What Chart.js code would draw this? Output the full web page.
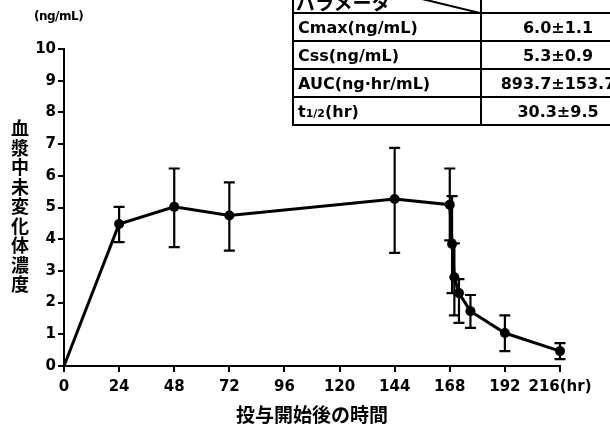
<!DOCTYPE html>
<html>
<head>
<meta charset="utf-8">
<script src="https://cdn.jsdelivr.net/npm/chart.js@4"></script>
<style>
  html, body { margin: 0; padding: 0; background: #fff; overflow: hidden; }
  #wrap { position: relative; width: 610px; height: 430px; overflow: hidden; }
  #unit { position: absolute; left: 34px; top: 9px; font: bold 12px "DejaVu Sans", sans-serif; letter-spacing: -0.5px; }
  #ytitle { position: absolute; left: 9px; top: 118px; width: 22px; font: bold 18px "Noto Sans CJK JP", sans-serif;
            line-height: 19.5px; text-align: center; }
  #tbl { position: absolute; left: 292px; top: -34px; width: 340px; table-layout: fixed; border-collapse: collapse;
         font: bold 16px "DejaVu Sans", sans-serif; }
  #tbl td { border: 2px solid #000; padding: 0 0 0 4px; height: 26px; white-space: nowrap; overflow: hidden; }
  #tbl td.v { text-align: center; padding: 0; width: 152px; }
  #tbl td.p { width: 182px; }
  #tbl tr.h td { height: 44px; position: relative; }
  #hdr { position: absolute; left: 2px; bottom: 0; font: bold 19px "Noto Sans CJK JP", sans-serif; line-height: 20px; }
  #diag { position: absolute; left: 0; top: 0; }
</style>
</head>
<body>
<div id="wrap">
  <canvas id="myChart" width="610" height="430"></canvas>
  <div id="unit">(ng/mL)</div>
  <div id="ytitle">血<br>漿<br>中<br>未<br>変<br>化<br>体<br>濃<br>度</div>
  <table id="tbl">
    <tr class="h"><td class="p"><svg id="diag" width="192" height="50"><line x1="0" y1="0" x2="190" y2="46" stroke="#000" stroke-width="2"/></svg><span id="hdr">パラメータ</span></td><td class="v"></td></tr>
  </table>
</div>
<script>
// time after start of dosing (hr)
const times = [0, 24, 48, 72, 144, 168, 169, 170, 172, 177, 192, 216];
// mean plasma concentration (ng/mL)
const means = [0, 4.48, 5.02, 4.75, 5.27, 5.09, 3.85, 2.8, 2.3, 1.73, 1.04, 0.47];
// error bar ends
const lows  = [0, 3.91, 3.75, 3.64, 3.57, 3.96, 2.3, 1.6, 1.36, 1.2, 0.47, 0.22];
const highs = [0, 5.02, 6.23, 5.79, 6.88, 6.23, 5.36, 3.87, 2.74, 2.24, 1.6, 0.72];
const xTicks = [0, 24, 48, 72, 96, 120, 144, 168, 192, 216];

// table
const params = ["Cmax(ng/mL)", "Css(ng/mL)", "AUC(ng·hr/mL)", "t1/2(hr)"];
const paramVals = ["6.0±1.1", "5.3±0.9", "893.7±153.7", "30.3±9.5"];

let tbl = document.getElementById("tbl");
for (let i = 0; i < params.length; i++) {
    let tr = document.createElement("tr");
    let name = params[i];
    if (name.startsWith("t1/2")) name = 't<span style="font-size:11px">1/2</span>(hr)';
    tr.innerHTML = '<td class="p">' + name + '</td><td class="v">' + paramVals[i] + '</td>';
    tbl.appendChild(tr);
}

const errorBars = {
    id: "errorBars",
    afterDatasetsDraw(chart) {
        const ctx = chart.ctx;
        const xs = chart.scales.x, ys = chart.scales.y;
        ctx.save();
        ctx.strokeStyle = "#000";
        ctx.lineWidth = 2.2;
        for (let i = 0; i < times.length; i++) {
            if (highs[i] === lows[i]) continue;
            let x = xs.getPixelForValue(times[i]);
            let y1 = ys.getPixelForValue(lows[i]);
            let y2 = ys.getPixelForValue(highs[i]);
            ctx.beginPath();
            ctx.moveTo(x, y1); ctx.lineTo(x, y2);
            ctx.moveTo(x - 5.5, y1); ctx.lineTo(x + 5.5, y1);
            ctx.moveTo(x - 5.5, y2); ctx.lineTo(x + 5.5, y2);
            ctx.stroke();
        }
        ctx.restore();
    }
};

const tickFont = { family: "DejaVu Sans", weight: "bold", size: 15 };

new Chart("myChart", {
    type: "scatter",
    data: {
        datasets: [{
            data: times.map((t, i) => ({ x: t, y: means[i] })),
            showLine: true,
            borderColor: "#000",
            borderWidth: 3,
            backgroundColor: "#000",
            pointRadius: (c) => c.dataIndex === 0 ? 0 : 5,
            pointBorderWidth: 0,
            clip: false
        }]
    },
    options: {
        responsive: false,
        animation: false,
        layout: { padding: { left: 0, right: 50, top: 49, bottom: 0 } },
        plugins: { legend: { display: false }, tooltip: { enabled: false } },
        scales: {
            x: {
                type: "linear", min: 0, max: 216,
                afterBuildTicks: (s) => { s.ticks = xTicks.map(v => ({ value: v })); },
                afterFit: (s) => { s.height = 64; },
                ticks: {
                    color: "#000", font: tickFont, padding: 6, maxRotation: 0, autoSkip: false,
                    callback: (v) => v === 216 ? "216(hr)" : v
                },
                grid: { drawOnChartArea: false, drawTicks: true, tickLength: 6, color: "#000", lineWidth: 2 },
                border: { display: true, color: "#000", width: 2 },
                title: {
                    display: true, text: "投与開始後の時間", color: "#000",
                    font: { family: "Noto Sans CJK JP", weight: "bold", size: 19 }, padding: { top: 0 }
                }
            },
            y: {
                min: 0, max: 10,
                afterFit: (s) => { s.width = 64; },
                ticks: { stepSize: 1, color: "#000", font: tickFont, padding: 2 },
                grid: { drawOnChartArea: false, drawTicks: true, tickLength: 6, color: "#000", lineWidth: 2 },
                border: { display: true, color: "#000", width: 2 }
            }
        }
    },
    plugins: [errorBars]
});
</script>
</body>
</html>
